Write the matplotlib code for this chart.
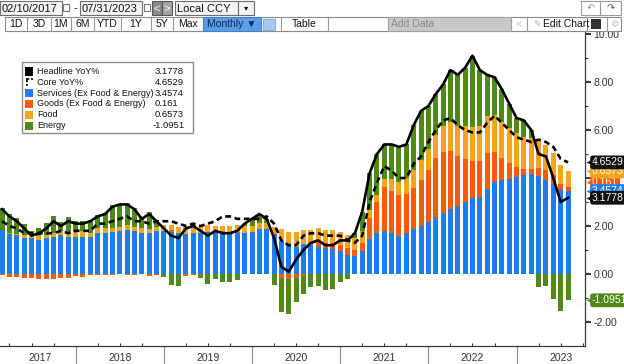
import numpy as np
import matplotlib.pyplot as plt
import matplotlib.transforms as mtransforms
from matplotlib.patches import Rectangle

plt.rcParams['font.family'] = ['Liberation Sans', 'DejaVu Sans']

W, H = 624, 364

# monthly, Feb 2017 .. Jul 2023 (US CPI, % YoY and contributions)
headline = [2.7, 2.4, 2.2, 1.9, 1.6, 1.7, 1.9, 2.2, 2.0, 2.2, 2.1,
            2.1, 2.2, 2.4, 2.5, 2.8, 2.9, 2.9, 2.7, 2.3, 2.5, 2.2, 1.9,
            1.6, 1.5, 1.9, 2.0, 1.8, 1.6, 1.8, 1.7, 1.7, 1.8, 2.1, 2.3,
            2.5, 2.3, 1.5, 0.3, 0.1, 0.6, 1.0, 1.3, 1.4, 1.2, 1.2, 1.4,
            1.4, 1.7, 2.6, 4.2, 5.0, 5.4, 5.4, 5.3, 5.4, 6.2, 6.8, 7.0,
            7.5, 7.9, 8.5, 8.3, 8.6, 9.1, 8.5, 8.3, 8.2, 7.7, 7.1, 6.5,
            6.4, 6.0, 5.0, 4.9, 4.0, 3.0, 3.1778]
core = [2.2, 2.0, 1.9, 1.7, 1.7, 1.7, 1.7, 1.7, 1.8, 1.7, 1.8,
        1.8, 1.8, 2.1, 2.1, 2.2, 2.3, 2.4, 2.2, 2.2, 2.1, 2.2, 2.2,
        2.2, 2.1, 2.0, 2.1, 2.0, 2.1, 2.2, 2.4, 2.4, 2.3, 2.3, 2.3,
        2.3, 2.4, 2.1, 1.4, 1.2, 1.2, 1.6, 1.7, 1.7, 1.6, 1.6, 1.6,
        1.4, 1.3, 1.6, 3.0, 3.8, 4.5, 4.3, 4.0, 4.0, 4.6, 4.9, 5.5,
        6.0, 6.4, 6.5, 6.2, 6.0, 5.9, 5.9, 6.3, 6.6, 6.3, 6.0, 5.7,
        5.6, 5.5, 5.6, 5.5, 5.3, 4.8, 4.6529]
services = [1.84, 1.67, 1.61, 1.49, 1.49, 1.43, 1.49, 1.55, 1.61, 1.55, 1.55,
            1.55, 1.55, 1.73, 1.73, 1.75, 1.79, 1.84, 1.79, 1.73, 1.73, 1.79, 1.79,
            1.77, 1.71, 1.65, 1.71, 1.71, 1.77, 1.71, 1.71, 1.71, 1.71, 1.71, 1.77,
            1.86, 1.86, 1.68, 1.38, 1.20, 1.14, 1.25, 1.20, 1.14, 1.10, 1.06, 0.98,
            0.80, 0.74, 0.95, 1.45, 1.70, 1.78, 1.72, 1.60, 1.70, 1.88, 2.00, 2.15,
            2.38, 2.55, 2.70, 2.85, 3.00, 3.15, 3.20, 3.53, 3.85, 3.90, 3.94, 4.06,
            4.14, 4.17, 4.10, 3.92, 3.75, 3.50, 3.4574]
goods = [-0.04, -0.12, -0.14, -0.18, -0.18, -0.20, -0.21, -0.21, -0.18, -0.16, -0.10,
         -0.12, -0.06, -0.04, -0.06, -0.06, -0.02, -0.06, -0.04, -0.02, -0.08, -0.04, 0.02,
         0.06, 0.00, -0.08, -0.06, -0.06, -0.02, 0.04, 0.08, 0.06, 0.06, 0.02, -0.02,
         -0.02, 0.02, -0.02, -0.18, -0.21, -0.16, -0.10, 0.08, 0.22, 0.20, 0.24, 0.22,
         0.28, 0.26, 0.34, 0.88, 1.30, 1.86, 1.75, 1.70, 1.65, 1.70, 1.90, 2.18,
         2.45, 2.55, 2.42, 2.05, 1.80, 1.56, 1.50, 1.52, 1.25, 0.95, 0.70, 0.40,
         0.22, 0.22, 0.30, 0.42, 0.38, 0.26, 0.161]
food = [0.00, 0.04, 0.07, 0.12, 0.12, 0.15, 0.15, 0.16, 0.18, 0.19, 0.22,
        0.23, 0.18, 0.18, 0.19, 0.16, 0.19, 0.19, 0.19, 0.19, 0.16, 0.19, 0.22,
        0.22, 0.27, 0.29, 0.25, 0.27, 0.26, 0.25, 0.23, 0.25, 0.29, 0.27, 0.25,
        0.25, 0.25, 0.27, 0.49, 0.56, 0.63, 0.57, 0.57, 0.55, 0.55, 0.52, 0.55,
        0.53, 0.50, 0.49, 0.34, 0.31, 0.34, 0.48, 0.52, 0.64, 0.74, 0.85, 0.88,
        0.96, 1.08, 1.20, 1.28, 1.36, 1.40, 1.47, 1.55, 1.52, 1.48, 1.44, 1.41,
        1.36, 1.28, 1.15, 1.04, 0.90, 0.77, 0.6573]
energy = [0.90, 0.81, 0.66, 0.47, 0.17, 0.32, 0.47, 0.70, 0.39, 0.62, 0.43,
          0.44, 0.53, 0.53, 0.64, 0.95, 0.94, 0.93, 0.76, 0.40, 0.69, 0.26, -0.13,
          -0.45, -0.48, 0.04, 0.10, -0.12, -0.41, -0.20, -0.32, -0.32, -0.26, 0.10, 0.30,
          0.41, 0.17, -0.43, -1.39, -1.45, -1.01, -0.72, -0.55, -0.51, -0.65, -0.62, -0.35,
          -0.21, 0.20, 0.82, 1.53, 1.69, 1.42, 1.45, 1.48, 1.41, 1.88, 2.05, 1.79,
          1.71, 1.72, 2.18, 2.12, 2.44, 2.99, 2.33, 1.70, 1.58, 1.37, 1.02, 0.63,
          0.68, 0.33, -0.55, -0.48, -1.03, -1.53, -1.0951]

series_names = ['Headline YoY%', 'Core YoY%', 'Services (Ex Food & Energy)',
                'Goods (Ex Food & Energy)', 'Food', 'Energy']
years = ['2017', '2018', '2019', '2020', '2021', '2022', '2023']
year_pos = [5.1, 16, 28, 40, 52, 64, 76]
year_breaks = [10, 22, 34, 46, 58, 70]

BLUE = '#1e7cf2'
RED = '#fa5a0a'
ORANGE = '#f8a31c'
GREEN = '#4f8a16'


def fx(px):
    return px / W


def fy(py):
    return 1 - py / H


fig = plt.figure(figsize=(W / 100, H / 100), dpi=100)
ax = fig.add_axes([0, fy(346), fx(585), (346 - 30) / H])

# stacked bars, positives up from zero and negatives down
x = np.arange(len(headline))
pos = np.zeros(len(x))
neg = np.zeros(len(x))
tops = []
for vals, col in [(services, BLUE), (goods, RED), (food, ORANGE), (energy, GREEN)]:
    v = np.array(vals)
    base = np.where(v >= 0, pos, neg)
    ax.bar(x, v, 0.68, bottom=base, color=col, linewidth=0, zorder=2)
    tops.append(base[-1] + v[-1])
    pos += np.clip(v, 0, None)
    neg += np.clip(v, None, 0)

ax.plot(x, core, color='black', lw=1.9, dashes=(2.2, 1.4), zorder=3)
ax.plot(x, headline, color='black', lw=1.9, zorder=4)

ax.set_xlim(-0.29, 79.31)
ax.set_ylim(-3.0, 10.17)
for s in ['left', 'top']:
    ax.spines[s].set_visible(False)
for s in ['right', 'bottom']:
    ax.spines[s].set_color('#3a3a3a')
    ax.spines[s].set_linewidth(0.9)

ax.yaxis.tick_right()
yt = np.arange(-2, 11, 2)
ax.set_yticks(yt)
ax.set_yticklabels([f'{v:.2f}' for v in yt])
ax.set_yticks(np.arange(-1, 10, 2), minor=True)
ax.tick_params(axis='y', which='major', length=4, width=1.4, pad=2,
               labelsize=7.5, labelcolor='#333333', color='#333333')
ax.tick_params(axis='y', which='minor', length=2.5, width=0.8, color='#333333')

ax.set_xticks(year_breaks)
ax.set_xticklabels([])
ax.set_xticks(np.arange(1, 80, 3), minor=True)
ax.tick_params(axis='x', which='major', length=13, width=0.8, direction='out', color='#8a8a8a')
ax.tick_params(axis='x', which='minor', length=2.5, width=0.8, direction='in', color='#3a3a3a')

tr = ax.get_xaxis_transform()
for p, yr in zip(year_pos, years):
    ax.text(p, -0.038, yr, transform=tr, ha='center', va='center', fontsize=7.5, color='#333333')

# last-value tags on the right axis
tr_y = mtransforms.blended_transform_factory(ax.transAxes, ax.transData)


def tag(yv, text, fc, z):
    ax.text(1.012, yv, text, transform=tr_y, ha='left', va='center', fontsize=7.5,
            color='white', zorder=z, clip_on=False,
            bbox=dict(boxstyle='round,pad=0.18,rounding_size=0.25', fc=fc, ec='none'))
    ax.plot([1.007], [yv], marker='<', ms=5, color=fc, mec='none', transform=tr_y,
            clip_on=False, zorder=z)


tag(tops[1] + 0.2, str(goods[-1]), RED, 10)
tag(tops[0], str(services[-1]), BLUE, 11)
tag(tops[2], str(food[-1]), ORANGE, 12)
tag(tops[3], str(energy[-1]), GREEN, 12)
tag(headline[-1], str(headline[-1]), '#111111', 13)
tag(core[-1], str(core[-1]), '#111111', 14)

# legend box
fig.patches.append(Rectangle((fx(22), fy(133)), fx(193) - fx(22), fy(62) - fy(133),
                             transform=fig.transFigure, fc='white', ec='#8c8c8c', lw=1.0))
leg_vals = [headline[-1], core[-1], services[-1], goods[-1], food[-1], energy[-1]]
leg_cols = ['black', None, BLUE, RED, ORANGE, GREEN]
for k, (name, val, col) in enumerate(zip(series_names, leg_vals, leg_cols)):
    ry = 71.5 + 10.8 * k
    if col is None:
        fig.lines.append(plt.Line2D([fx(26), fx(33)], [fy(ry - 3.5), fy(ry - 3.5)],
                                    transform=fig.transFigure, color='black', lw=1.2,
                                    dashes=(2, 1)))
        fig.lines.append(plt.Line2D([fx(26.5), fx(26.5)], [fy(ry - 3.5), fy(ry + 3.5)],
                                    transform=fig.transFigure, color='black', lw=1.2,
                                    dashes=(2, 1)))
    else:
        fig.patches.append(Rectangle((fx(25), fy(ry + 4)), fx(8), 8 / H,
                                     transform=fig.transFigure, fc=col, ec='none'))
    fig.text(fx(37), fy(ry), name, ha='left', va='center', fontsize=6.5, color='#111111')
    vx = 152.5 if val < 0 else 155
    fig.text(fx(vx), fy(ry), str(val), ha='left', va='center', fontsize=6.8, color='#111111')


# toolbar
def box(x0, y0, x1, y1, fc, ec='#6e6e6e', lw=0.8):
    fig.patches.append(Rectangle((fx(x0), fy(y1)), fx(x1 - x0), (y1 - y0) / H,
                                 transform=fig.transFigure, fc=fc, ec=ec, lw=lw))


def txt(px, py, s, ha='left', color='#111111', size=8):
    fig.text(fx(px), fy(py), s, ha=ha, va='center', fontsize=size, color=color)


box(0, 1, 62, 15, '#f4f4f4')
txt(1.5, 8.5, '02/10/2017')
box(63, 4, 69, 11, 'white', '#777777')
txt(74, 8.5, '-')
box(80, 1, 142, 15, '#f4f4f4')
txt(81.5, 8.5, '07/31/2023')
box(144, 4, 150, 11, 'white', '#777777')
box(152, 1, 162, 15, '#8a8a8a', '#555555')
txt(157, 8.5, '<', ha='center', color='white')
box(162, 1, 172, 15, '#a4a4a4', '#555555')
txt(167, 8.5, '>', ha='center', color='white')
box(175, 1, 238, 15, '#f4f4f4')
txt(177, 8.5, 'Local CCY')
box(238, 1, 254, 15, '#f4f4f4')
txt(246, 8.5, '▾', ha='center', size=6)
box(581, 1, 600, 15, 'white', '#9a9a9a')
txt(590.5, 8.5, '↶', ha='center', color='#9a9a9a', size=7)
box(600, 1, 621, 15, 'white', '#9a9a9a')
txt(610.5, 8.5, '↷', ha='center', color='#555555', size=7)

box(5, 17, 621, 31, 'white', '#8a8a8a')
box(203, 17, 261, 31, '#5b9de6', '#4a7fbf')
box(263, 18.5, 275, 29.5, '#a9c9f0', '#8aaee0')
box(388, 17, 511, 31, '#c9c9c9', '#a0a0a0')
for d in [27, 51, 71, 94, 121, 151, 173, 281, 328, 527, 587, 607]:
    fig.lines.append(plt.Line2D([fx(d), fx(d)], [fy(17), fy(31)], transform=fig.transFigure,
                                color='#9a9a9a', lw=0.8))
row2 = [('1D', 16), ('3D', 39), ('1M', 61), ('6M', 82.5), ('YTD', 107.5), ('1Y', 136),
        ('5Y', 162), ('Max', 188), ('Table', 304.5)]
for s, p in row2:
    txt(p, 24, s, ha='center', size=7.5)
txt(232, 24, 'Monthly ▼', ha='center', color='#0d2a55', size=7.5)
txt(391, 24, 'Add Data', color='#8a8a8a', size=7.5)
txt(519, 24, '«', ha='center', color='#c0c0c0', size=7.5)
txt(533, 24, '✎', color='#b0b0b0', size=6.5)
txt(543, 24, 'Edit Chart', size=7.5)
box(591, 19.5, 601, 28.5, '#333333', 'none')
txt(614, 24, '⚙', ha='center', color='#c8c8c8', size=7)

fig.savefig('out.png', dpi=100)
